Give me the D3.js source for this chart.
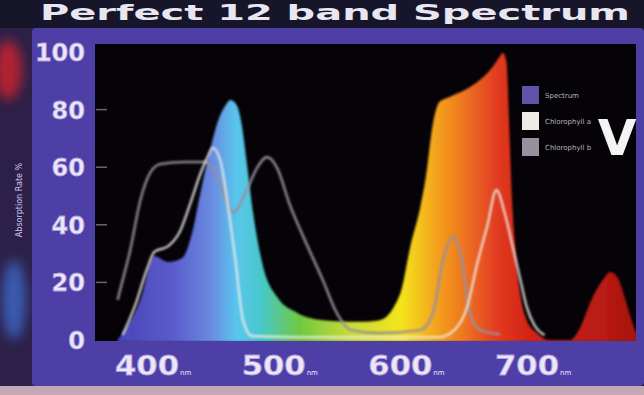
<!DOCTYPE html>
<html>
<head>
<meta charset="utf-8">
<script src="https://cdn.jsdelivr.net/npm/d3@7"></script>
<style>
  body { margin: 0; background: #17152a; }
  svg { display: block; }
</style>
</head>
<body>
<div id="chart"></div>
<script>
var width = 644;
var height = 395;

// spectrum fill (nm, %)
var spectrumNm = [376, 380, 394, 405, 416, 427, 435, 441, 449, 455, 461, 465, 470, 474, 478, 483, 491, 502, 518, 538, 567, 583, 595, 600, 607, 615, 619, 625, 630, 638, 650, 662, 672, 678, 680, 683, 685, 687, 690, 694, 699, 707, 716, 733, 741, 750, 759, 765, 771, 777, 783, 788];
var spectrumVal = [0, 2.4, 13.9, 29.2, 27.1, 28.5, 37.5, 50.3, 66, 75.7, 81.3, 83.3, 81.6, 74.7, 61.5, 44.1, 25.3, 14.9, 9.4, 6.9, 6.3, 6.9, 12.2, 17.4, 32.3, 46.2, 55.6, 75.3, 82.6, 84.4, 86.8, 90.3, 94.8, 98.6, 99.7, 96.5, 76.4, 52.1, 31.3, 15.6, 6.9, 2.4, 0, 0, 4.2, 13.9, 20.8, 23.6, 21.5, 13.9, 5.2, 0];

// chlorophyll a (white line)
var chlANm = [380, 390, 399, 405, 416, 425, 433, 441, 447, 451, 457, 463, 469, 475, 482, 520, 630, 642, 652, 660, 668, 675, 682, 688, 694, 699, 705, 713];
var chlAVal = [1.7, 12.2, 24.3, 30.6, 32.6, 37.5, 46.9, 57.3, 63.5, 66.7, 62.5, 46.9, 27.8, 6.9, 1.4, 1, 1, 3.5, 11.5, 26.7, 39.9, 52.1, 43.4, 32.3, 20.8, 11.5, 5.2, 1.7];

// chlorophyll b (grey line)
var chlBNm = [376, 378, 386, 394, 402, 410, 429, 445, 453, 461, 467, 478, 486, 494, 502, 512, 522, 538, 549, 560, 583, 615, 625, 633, 641, 648, 654, 662, 678];
var chlBVal = [13.9, 17.4, 31.3, 48.6, 58.3, 61.1, 61.8, 61.8, 58.3, 49.3, 44.1, 52.1, 59.7, 63.5, 59.7, 46.9, 36.5, 20.8, 9.4, 3.5, 2.4, 3.5, 9.4, 27.8, 35.8, 27.1, 9.4, 3.5, 2];

var xTicks = [400, 500, 600, 700];
var yTicks = [0, 20, 40, 60, 80, 100];
var legendNames = ['Spectrum', 'Chlorophyll a', 'Chlorophyll b'];
var legendColors = ['#5f52a8', '#ecebe4', '#9a8f9f'];

// wavelength colours for the fill gradient
var gradNm = [380, 420, 450, 470, 490, 520, 560, 600, 625, 650, 675, 700, 760, 790];
var gradColors = ['#4a46b8', '#5a5ccc', '#6a8ae0', '#58c6ee', '#48c8c8', '#70c840', '#c8dc38', '#f4e41c', '#f4a81c', '#ee7420', '#e23c20', '#d42418', '#b81a12', '#a01410'];

window.onload = start;

function start() {
  var svg = d3.select('#chart').append('svg')
    .attr('width', width)
    .attr('height', height);

  var xScale = d3.scaleLinear().domain([400, 700]).range([148, 528]);
  var yScale = d3.scaleLinear().domain([0, 100]).range([340, 52]);

  var defs = svg.append('defs');

  var grad = defs.append('linearGradient')
    .attr('id', 'specGrad')
    .attr('gradientUnits', 'userSpaceOnUse')
    .attr('x1', xScale(380)).attr('x2', xScale(790))
    .attr('y1', 0).attr('y2', 0);
  grad.selectAll('stop')
    .data(gradNm)
    .enter()
    .append('stop')
    .attr('offset', function (d) { return (d - 380) / (790 - 380); })
    .attr('stop-color', function (d, i) { return gradColors[i]; });

  var blur = defs.append('filter').attr('id', 'soft');
  blur.append('feGaussianBlur').attr('stdDeviation', 0.8);

  var bigBlur = defs.append('filter').attr('id', 'bigblur')
    .attr('x', '-50%').attr('y', '-50%').attr('width', '200%').attr('height', '200%');
  bigBlur.append('feGaussianBlur').attr('stdDeviation', 6);

  defs.append('clipPath').attr('id', 'plotClip')
    .append('rect')
    .attr('x', 95).attr('y', 44)
    .attr('width', 541).attr('height', 297);

  // background: dark title bar, photo strip at left, purple frame
  svg.append('rect').attr('width', width).attr('height', height).attr('fill', '#17152a');
  svg.append('rect').attr('x', 0).attr('y', 28).attr('width', 34).attr('height', 360).attr('fill', '#2c2048');
  svg.append('ellipse').attr('cx', 8).attr('cy', 70).attr('rx', 14).attr('ry', 30)
    .attr('fill', '#b02430').attr('filter', 'url(#bigblur)');
  svg.append('ellipse').attr('cx', 14).attr('cy', 300).attr('rx', 12).attr('ry', 40)
    .attr('fill', '#3a5ab0').attr('filter', 'url(#bigblur)');
  svg.append('rect').attr('x', 0).attr('y', 386).attr('width', width).attr('height', 9).attr('fill', '#c4a9b4');
  svg.append('rect').attr('x', 32).attr('y', 28).attr('width', width - 32).attr('height', 358)
    .attr('rx', 4).attr('fill', '#4d3fa6');

  // title in the dark bar at the top
  svg.append('text')
    .attr('x', 40).attr('y', 20)
    .attr('textLength', 590)
    .attr('lengthAdjust', 'spacingAndGlyphs')
    .attr('font-family', 'DejaVu Sans')
    .attr('font-weight', 'bold')
    .attr('font-size', 22)
    .attr('fill', '#e8e6f0')
    .text('Perfect 12 band Spectrum');

  // black plot area
  svg.append('rect').attr('x', 95).attr('y', 44).attr('width', 541).attr('height', 297).attr('fill', '#050307');

  var plot = svg.append('g').attr('clip-path', 'url(#plotClip)');

  var specData = spectrumNm.map(function (d, i) { return { nm: d, v: spectrumVal[i] }; });
  var chlAData = chlANm.map(function (d, i) { return { nm: d, v: chlAVal[i] }; });
  var chlBData = chlBNm.map(function (d, i) { return { nm: d, v: chlBVal[i] }; });

  var area = d3.area()
    .x(function (d) { return xScale(d.nm); })
    .y0(yScale(0) + 2)
    .y1(function (d) { return yScale(d.v); })
    .curve(d3.curveMonotoneX);

  var line = d3.line()
    .x(function (d) { return xScale(d.nm); })
    .y(function (d) { return yScale(d.v); })
    .curve(d3.curveMonotoneX);

  plot.append('path')
    .datum(specData)
    .attr('d', area)
    .attr('fill', 'url(#specGrad)')
    .attr('filter', 'url(#soft)');

  // chlorophyll b underneath, chlorophyll a on top
  plot.append('path')
    .datum(chlBData)
    .attr('d', line)
    .attr('fill', 'none')
    .attr('stroke', '#9a8f9f')
    .attr('stroke-width', 2.6)
    .attr('stroke-opacity', 0.9)
    .attr('filter', 'url(#soft)');

  plot.append('path')
    .datum(chlAData)
    .attr('d', line)
    .attr('fill', 'none')
    .attr('stroke', '#ecebe4')
    .attr('stroke-width', 2.4)
    .attr('stroke-opacity', 0.85)
    .attr('filter', 'url(#soft)');

  // y axis
  var yAxis = svg.append('g');
  yAxis.selectAll('line')
    .data(yTicks.filter(function (d) { return d > 0 && d < 100; }))
    .enter()
    .append('line')
    .attr('x1', 96).attr('x2', 107)
    .attr('y1', function (d) { return yScale(d); })
    .attr('y2', function (d) { return yScale(d); })
    .attr('stroke', '#6a6470')
    .attr('stroke-width', 1.5);
  yAxis.selectAll('text')
    .data(yTicks)
    .enter()
    .append('text')
    .attr('x', 85)
    .attr('y', function (d) { return yScale(d) + 9; })
    .attr('text-anchor', 'end')
    .attr('font-family', 'DejaVu Sans')
    .attr('font-weight', 'bold')
    .attr('font-size', 24)
    .attr('fill', '#ece6f8')
    .attr('stroke', '#a89ad8')
    .attr('stroke-width', 0.8)
    .text(function (d) { return d; });

  svg.append('text')
    .attr('transform', 'translate(22,' + 200 + ') rotate(-90)')
    .attr('text-anchor', 'middle')
    .attr('font-family', 'DejaVu Sans')
    .attr('font-size', 8)
    .attr('fill', '#cfc4ec')
    .text('Absorption Rate %');

  // x axis labels with small nm unit
  var xLab = svg.append('g').selectAll('text')
    .data(xTicks)
    .enter()
    .append('text')
    .attr('x', function (d) { return xScale(d) - 33; })
    .attr('y', 375)
    .attr('font-family', 'DejaVu Sans')
    .attr('font-weight', 'bold')
    .attr('font-size', 26)
    .attr('fill', '#ece6f8')
    .attr('stroke', '#a89ad8')
    .attr('stroke-width', 0.8);
  xLab.append('tspan')
    .attr('textLength', 64)
    .attr('lengthAdjust', 'spacingAndGlyphs')
    .text(function (d) { return d; });
  xLab.append('tspan')
    .attr('font-size', 7)
    .attr('font-weight', 'normal')
    .attr('stroke', 'none')
    .attr('dx', 1)
    .text('nm');

  // legend
  var legend = svg.append('g').selectAll('g')
    .data(legendNames)
    .enter()
    .append('g')
    .attr('transform', function (d, i) { return 'translate(522,' + (86 + i * 26) + ')'; });
  legend.append('rect')
    .attr('width', 17).attr('height', 18)
    .attr('fill', function (d, i) { return legendColors[i]; });
  legend.append('text')
    .attr('x', 23).attr('y', 12)
    .attr('font-family', 'DejaVu Sans')
    .attr('font-size', 7)
    .attr('fill', '#b8b4bc')
    .text(function (d) { return d; });

  svg.append('text')
    .attr('x', 617).attr('y', 155)
    .attr('text-anchor', 'middle')
    .attr('font-family', 'DejaVu Sans')
    .attr('font-weight', 'bold')
    .attr('font-size', 50)
    .attr('fill', '#f4f4f4')
    .text('V');
}
</script>
</body>
</html>
